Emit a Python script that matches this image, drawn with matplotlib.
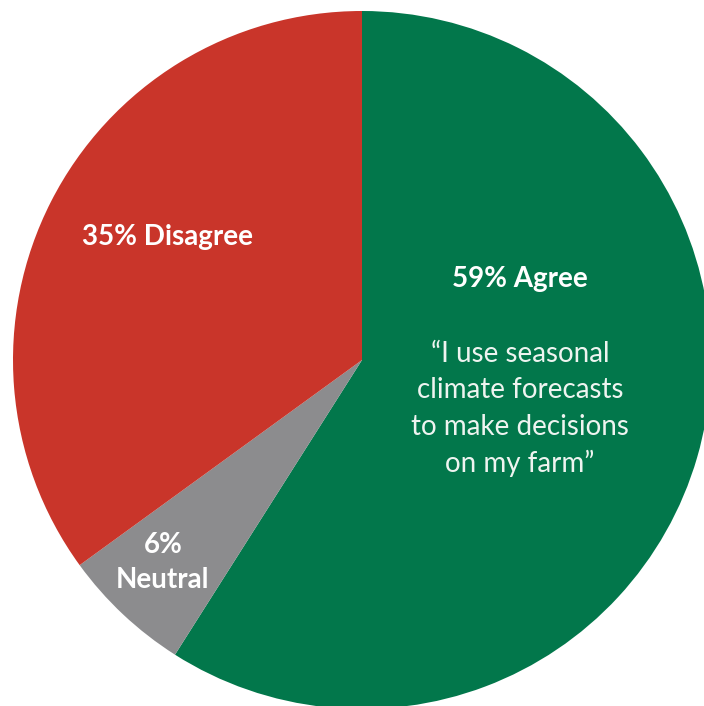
import matplotlib
matplotlib.use("Agg")
import matplotlib.pyplot as plt

# Survey response shares
categories = ["Agree", "Neutral", "Disagree"]
shares = [59, 6, 35]
colors = ["#02774B", "#8C8C8E", "#C9352A"]
quote = ["\u201cI use seasonal", "climate forecasts", "to make decisions", "on my farm\u201d"]

W, H = 704, 706
fig = plt.figure(figsize=(W / 100, H / 100), dpi=100)
ax = fig.add_axes([0, 0, 1, 1])

cx, cy, r = 362, 360, 349
wedges, _ = ax.pie(shares, colors=colors, startangle=90, counterclock=False,
                   center=(cx, cy), radius=r, frame=True,
                   wedgeprops=dict(linewidth=0))
# y axis is inverted, so mirror wedges to keep clockwise order from top
for w in wedges:
    t1, t2 = w.theta1, w.theta2
    w.set_theta1(-t2)
    w.set_theta2(-t1)
ax.set_xlim(0, W)
ax.set_ylim(H, 0)
ax.set_aspect("equal")
ax.axis("off")

bold = dict(family="Lato", weight="bold", color="white", ha="center", va="center")
ax.text(520, 279, f"{shares[0]}% {categories[0]}", fontsize=20, **bold)
ax.text(167, 237, f"{shares[2]}% {categories[2]}", fontsize=20, **bold)
ax.text(163, 545, f"{shares[1]}%", fontsize=20, **bold)
ax.text(163, 580, categories[1], fontsize=20, **bold)

for i, line in enumerate(quote):
    ax.text(520, 354 + i * 36.5, line, fontsize=20, family="Lato",
            color="#EEF4F0", ha="center", va="center")

fig.savefig("out.png", dpi=100, facecolor="white")
